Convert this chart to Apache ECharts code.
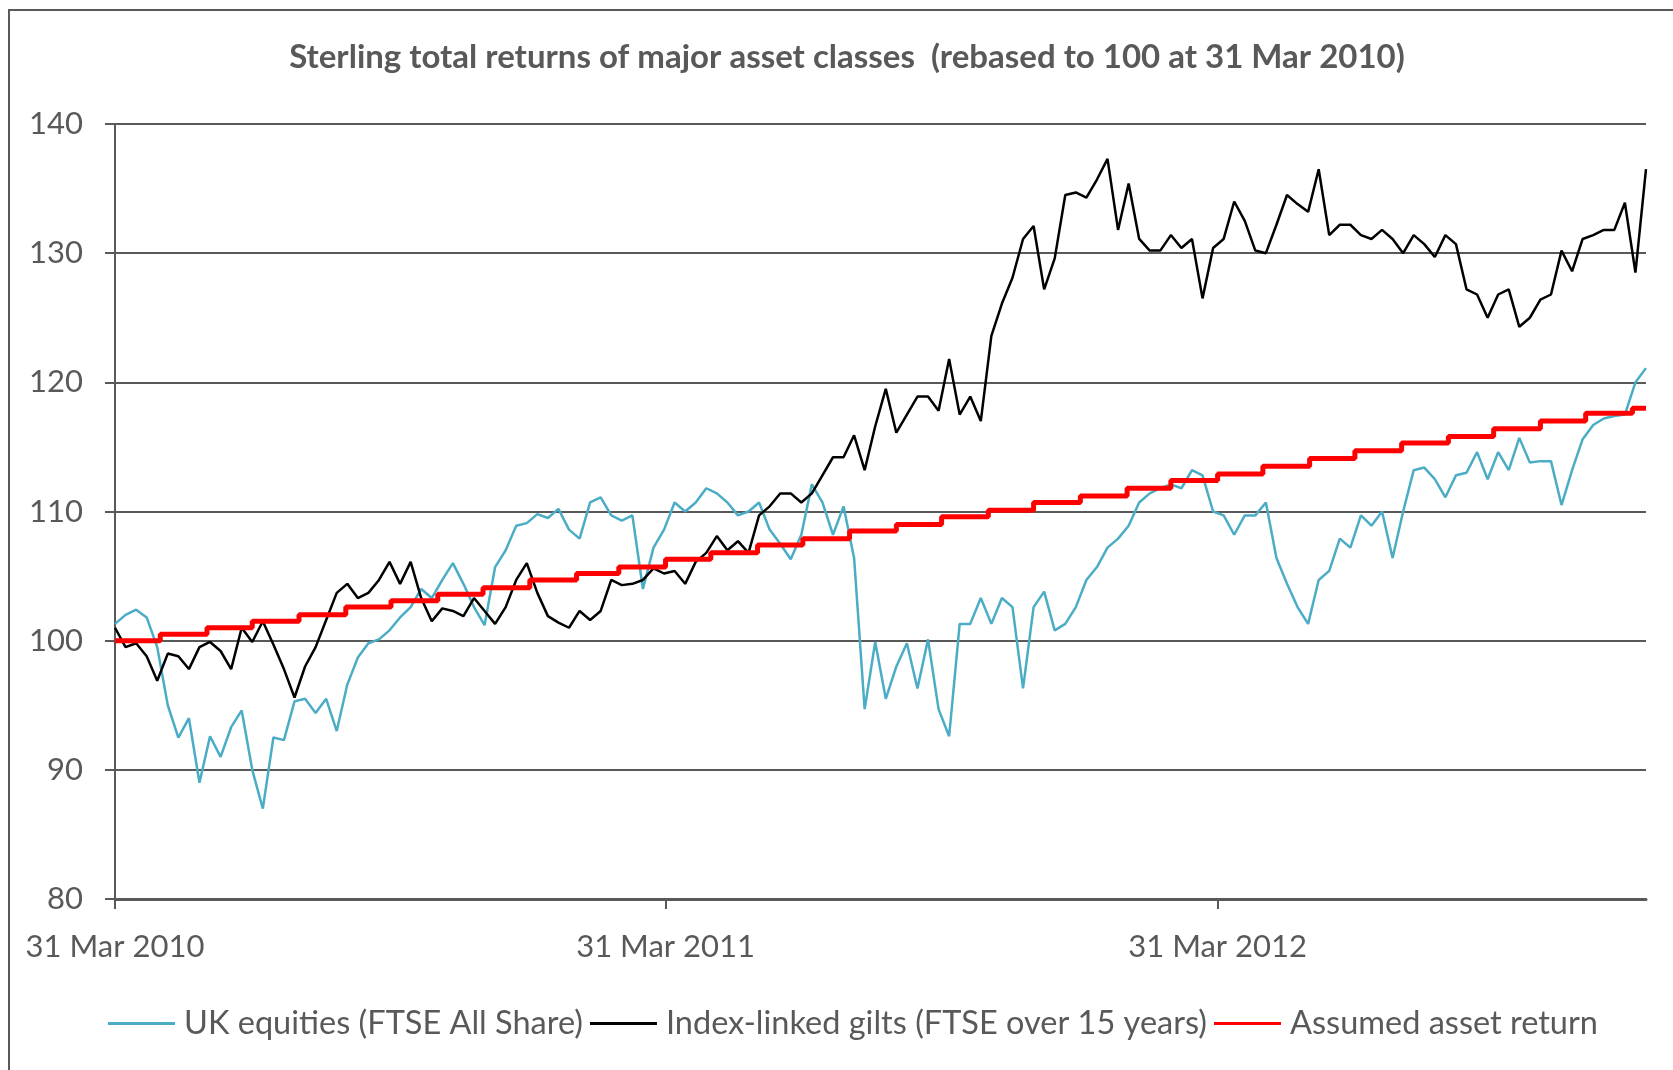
<!DOCTYPE html>
<html>
<head>
<meta charset="utf-8">
<title>Sterling total returns</title>
<script src="https://cdn.jsdelivr.net/npm/echarts@6/dist/echarts.min.js"></script>
<style>
  html, body { margin: 0; padding: 0; background: #fff; }
  #main { width: 1673px; height: 1070px; }
</style>
</head>
<body>
<div id="main"></div>
<script>
// weekly samples starting 31 Mar 2010
var startDate = '2010-03-31';
var stepDays = 7;

var equities = [
  101.3, 102.0, 102.4, 101.8, 99.5, 95.0, 92.5, 94.0, 89.0, 92.6,
  91.0, 93.3, 94.6, 90.0, 87.0, 92.5, 92.3, 95.3, 95.5, 94.4,
  95.5, 93.0, 96.6, 98.7, 99.8, 100.1, 100.8, 101.8, 102.6, 104.0,
  103.3, 104.7, 106.0, 104.4, 102.6, 101.2, 105.7, 107.0, 108.9, 109.1,
  109.8, 109.5, 110.2, 108.6, 107.9, 110.7, 111.1, 109.7, 109.3, 109.7,
  104.0, 107.2, 108.6, 110.7, 110.0, 110.7, 111.8, 111.4, 110.7, 109.7,
  110.0, 110.7, 108.6, 107.5, 106.3, 108.2, 112.1, 110.7, 108.2, 110.4,
  106.4, 94.7, 99.9, 95.5, 98.0, 99.8, 96.3, 100.1, 94.7, 92.6,
  101.3, 101.3, 103.3, 101.3, 103.3, 102.6, 96.3, 102.6, 103.8, 100.8,
  101.3, 102.6, 104.7, 105.7, 107.2, 107.9, 108.9, 110.7, 111.4, 111.8,
  112.1, 111.8, 113.2, 112.8, 110.0, 109.7, 108.2, 109.7, 109.7, 110.7,
  106.4, 104.4, 102.6, 101.3, 104.7, 105.4, 107.9, 107.2, 109.7, 108.9,
  110.0, 106.4, 110.0, 113.2, 113.4, 112.5, 111.1, 112.8, 113.0, 114.6,
  112.5, 114.6, 113.2, 115.7, 113.8, 113.9, 113.9, 110.5, 113.2, 115.6,
  116.7, 117.2, 117.4, 117.5, 120.0, 121.1
];

var gilts = [
  101.0, 99.5, 99.8, 98.8, 96.9, 99.0, 98.8, 97.8, 99.5, 99.9,
  99.2, 97.8, 101.0, 99.9, 101.5, 99.7, 97.8, 95.6, 98.0, 99.5,
  101.6, 103.7, 104.4, 103.3, 103.7, 104.7, 106.1, 104.4, 106.1, 103.3,
  101.5, 102.5, 102.3, 101.9, 103.3, 102.3, 101.3, 102.6, 104.7, 106.0,
  103.7, 101.9, 101.4, 101.0, 102.3, 101.6, 102.3, 104.7, 104.3, 104.4,
  104.7, 105.6, 105.2, 105.4, 104.4, 106.1, 106.8, 108.1, 107.0, 107.7,
  106.8, 109.7, 110.4, 111.4, 111.4, 110.7, 111.4, 112.8, 114.2, 114.2,
  115.9, 113.2, 116.6, 119.5, 116.1, 117.5, 118.9, 118.9, 117.8, 121.8,
  117.5, 118.9, 117.0, 123.6, 126.1, 128.1, 131.1, 132.1, 127.2, 129.6,
  134.5, 134.7, 134.3, 135.7, 137.3, 131.8, 135.4, 131.1, 130.2, 130.2,
  131.4, 130.4, 131.1, 126.5, 130.4, 131.1, 134.0, 132.5, 130.2, 130.0,
  132.2, 134.5, 133.8, 133.2, 136.5, 131.4, 132.2, 132.2, 131.4, 131.1,
  131.8, 131.1, 130.0, 131.4, 130.7, 129.7, 131.4, 130.7, 127.2, 126.8,
  125.0, 126.8, 127.2, 124.3, 125.0, 126.4, 126.8, 130.2, 128.6, 131.1,
  131.4, 131.8, 131.8, 133.9, 128.5, 136.5
];

// month-end values, Mar 2010 .. Dec 2012
var assumedReturn = [
  100.0, 100.5, 101.0, 101.5, 102.0, 102.6, 103.1, 103.6, 104.1, 104.7,
  105.2, 105.7, 106.3, 106.8, 107.4, 107.9, 108.5, 109.0, 109.6, 110.1,
  110.7, 111.2, 111.8, 112.4, 112.9, 113.5, 114.1, 114.7, 115.3, 115.8,
  116.4, 117.0, 117.6, 118.0
];

var seriesNames = ['UK equities (FTSE All Share)', 'Index-linked gilts (FTSE over 15 years)', 'Assumed asset return'];
var tickDates = ['2010-03-31', '2011-03-31', '2012-03-31'];
var tickLabels = ['31 Mar 2010', '31 Mar 2011', '31 Mar 2012'];

// x axis runs in days since the start date
var DAY = 86400000;
var t0 = Date.parse(startDate);
function dayOf(t) { return Math.round((t - t0) / DAY); }

function weekly(vals) {
  return vals.map(function (v, i) { return [i * stepDays, v]; });
}
var endDay = (equities.length - 1) * stepDays;

var redData = assumedReturn.map(function (v, i) { return [dayOf(Date.UTC(2010, 3 + i, 0)), v]; });
redData.push([endDay, assumedReturn[assumedReturn.length - 1]]);

var tickDays = tickDates.map(function (d) { return dayOf(Date.parse(d)); });
var labelMap = {};
tickDays.forEach(function (d, i) { labelMap[d] = tickLabels[i]; });

var grey = '#595959';
var font = 'Lato';

var myChart = echarts.init(document.getElementById('main'));
var option = {
  animation: false,
  backgroundColor: '#fff',
  graphic: [{
    type: 'rect',
    z: -10,
    shape: { x: 9, y: 10, width: 1700, height: 1100 },
    style: { fill: 'none', stroke: grey, lineWidth: 2 }
  }],
  title: {
    text: 'Sterling total returns of major asset classes  (rebased to 100 at 31 Mar 2010)',
    left: 842,
    top: 36,
    textAlign: 'center',
    textStyle: { fontFamily: font, fontWeight: 'bold', fontSize: 33, color: grey }
  },
  legend: {
    left: 103,
    top: 1002,
    itemWidth: 67,
    itemHeight: 3,
    itemGap: 7,
    textStyle: { fontFamily: font, fontSize: 32.5, color: grey, padding: [0, 0, 0, 4] },
    data: [
      { name: seriesNames[0], icon: 'rect' },
      { name: seriesNames[1], icon: 'rect' },
      { name: seriesNames[2], icon: 'rect' }
    ]
  },
  grid: { left: 115, right: 27, top: 124, bottom: 171, containLabel: false },
  xAxis: {
    type: 'value',
    min: 0,
    max: endDay,
    axisLine: { onZero: false, lineStyle: { color: grey, width: 3 } },
    axisTick: { show: true, length: 10, customValues: tickDays, lineStyle: { color: grey, width: 2 } },
    axisLabel: {
      customValues: tickDays,
      margin: 32,
      fontFamily: font, fontSize: 31, color: grey,
      formatter: function (v) { return labelMap[v] || ''; }
    },
    splitLine: { show: false }
  },
  yAxis: {
    type: 'value',
    min: 80,
    max: 140,
    interval: 10,
    axisLine: { show: true, lineStyle: { color: grey, width: 2 } },
    axisTick: { show: true, length: 10, lineStyle: { color: grey, width: 2 } },
    axisLabel: { margin: 32, fontFamily: font, fontSize: 31, color: grey },
    splitLine: { show: true, lineStyle: { color: grey, width: 2 } }
  },
  series: [{
    name: seriesNames[0],
    type: 'line',
    showSymbol: false,
    data: weekly(equities),
    itemStyle: { color: '#4BACC6' },
    lineStyle: { color: '#4BACC6', width: 2.5 },
    z: 2
  }, {
    name: seriesNames[1],
    type: 'line',
    showSymbol: false,
    data: weekly(gilts),
    itemStyle: { color: '#000' },
    lineStyle: { color: '#000', width: 2.5 },
    z: 3
  }, {
    name: seriesNames[2],
    type: 'line',
    showSymbol: false,
    step: 'end',
    data: redData,
    itemStyle: { color: '#ff0000' },
    lineStyle: { color: '#ff0000', width: 5 },
    z: 4
  }]
};
myChart.setOption(option);
</script>
</body>
</html>
